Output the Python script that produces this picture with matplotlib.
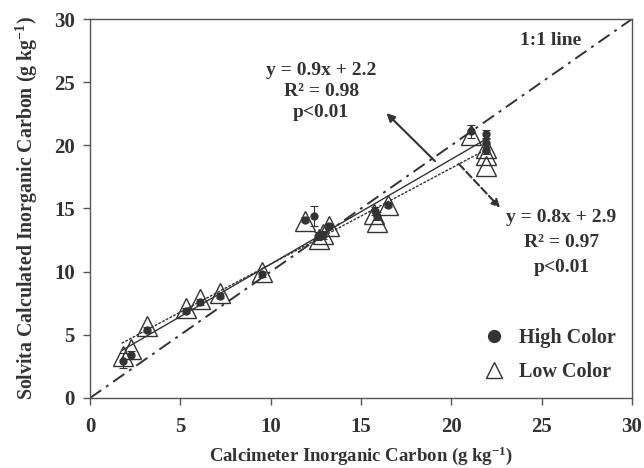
import numpy as np
import matplotlib.pyplot as plt
from matplotlib.lines import Line2D

plt.rcParams['font.family'] = ['Liberation Serif', 'DejaVu Serif']
plt.rcParams['font.weight'] = 'bold'
plt.rcParams['mathtext.fontset'] = 'custom'
plt.rcParams['mathtext.rm'] = 'Liberation Serif:bold'
plt.rcParams['mathtext.default'] = 'rm'

INK = '#333333'

# High Color (filled circles)
high_x = [1.8, 2.25, 3.15, 5.3, 6.1, 7.2, 9.5, 11.9, 12.4, 12.6, 12.9, 13.2, 15.8, 15.9, 16.5, 21.1, 21.9, 21.9, 21.9]
high_y = [2.95, 3.4, 5.4, 6.9, 7.6, 8.1, 9.8, 14.1, 14.4, 12.8, 12.9, 13.6, 14.8, 14.4, 15.3, 21.1, 20.9, 20.2, 19.6]
high_err = [0.6, 0.3, 0.2, 0.2, 0.2, 0.2, 0.2, 0.2, 0.8, 0.3, 0.3, 0.2, 0.3, 0.3, 0.2, 0.5, 0.3, 0.3, 0.3]

# Low Color (open triangles)
low_x = [1.8, 2.25, 3.15, 5.3, 6.1, 7.2, 9.5, 11.9, 12.7, 12.9, 13.2, 15.7, 15.9, 16.5, 21.1, 21.9, 21.9, 21.9]
low_y = [3.3, 3.9, 5.7, 7.1, 7.8, 8.3, 10.0, 14.0, 12.6, 13.0, 13.6, 14.6, 13.9, 15.3, 20.8, 19.8, 19.2, 18.4]

# fitted lines as drawn (slope, intercept, x range)
fit_high = (0.83, 2.3, 1.8, 21.9)
fit_low = (0.76, 3.0, 1.75, 21.9)

fig = plt.figure(figsize=(6.44, 4.68), dpi=100)
ax = fig.add_axes([0.1398, 0.1496, 0.8416, 0.8098])

# 1:1 line
ax.plot([0, 30], [0, 30], color=INK, lw=1.4, dashes=(7, 3, 1.5, 3), zorder=1)

# regression lines
for (m, b, x0, x1), ls in [(fit_high, '-'), (fit_low, (0, (2, 1)))]:
    xx = np.array([x0, x1])
    ax.plot(xx, m * xx + b, color=INK, lw=1.0, linestyle=ls, zorder=2)

ax.errorbar(high_x, high_y, yerr=high_err, fmt='o', color=INK, ms=5,
            elinewidth=0.8, capsize=3, capthick=0.8, zorder=3)
ax.plot(low_x, low_y, '^', ms=15, mfc='none', mec=INK, mew=1.0, zorder=4)

# arrows pointing to the equations
ax.annotate('', xy=(16.3, 22.7), xytext=(19.2, 18.6),
            arrowprops=dict(arrowstyle='-|>', color=INK, lw=1.5, mutation_scale=12))
ax.annotate('', xy=(22.8, 14.9), xytext=(20.3, 18.7),
            arrowprops=dict(arrowstyle='-|>', color=INK, lw=1.5, ls='--', mutation_scale=12))

txt = dict(ha='center', va='center', fontsize=14, fontweight='bold', color=INK)
ax.text(12.8, 25.9, 'y = 0.9x + 2.2', **txt)
ax.text(12.8, 24.3, 'R² = 0.98', **txt)
ax.text(12.8, 22.6, 'p<0.01', **txt)
ax.text(26.1, 14.25, 'y = 0.8x + 2.9', **txt)
ax.text(26.1, 12.3, 'R² = 0.97', **txt)
ax.text(26.1, 10.3, 'p<0.01', **txt)
ax.text(25.5, 28.3, '1:1 line', **txt)

handles = [Line2D([], [], ls='none', marker='o', ms=8.5, color=INK),
           Line2D([], [], ls='none', marker='^', ms=11, mfc='none', mec=INK, mew=1.0)]
leg = ax.legend(handles, ['High Color', 'Low Color'], loc='upper left',
                bbox_to_anchor=(0.703, 0.205), frameon=False, fontsize=14.5,
                handletextpad=0.5, labelspacing=0.7, handlelength=1.5, borderaxespad=0)
for t in leg.get_texts():
    t.set_color(INK)

ax.set_xlim(0, 30)
ax.set_ylim(0, 30)
ax.set_xticks(range(0, 31, 5))
ax.set_yticks(range(0, 31, 5))
ax.tick_params(direction='out', length=5, width=1, color='#555555',
               labelsize=15, labelcolor=INK, pad=6)
ax.tick_params(axis='x', pad=9)
for lab in ax.get_xticklabels() + ax.get_yticklabels():
    lab.set_fontweight('bold')
for s in ax.spines.values():
    s.set_color('#555555')
    s.set_linewidth(1.0)

ax.set_xlabel('Calcimeter Inorganic Carbon (g kg$^{-1}$)', fontsize=13.5,
              fontweight='bold', color=INK, labelpad=5)
ax.set_ylabel('Solvita Calculated Inorganic Carbon (g kg$^{-1}$)', fontsize=14.3,
              fontweight='bold', color=INK, labelpad=10)

fig.savefig('out.png', dpi=100)
